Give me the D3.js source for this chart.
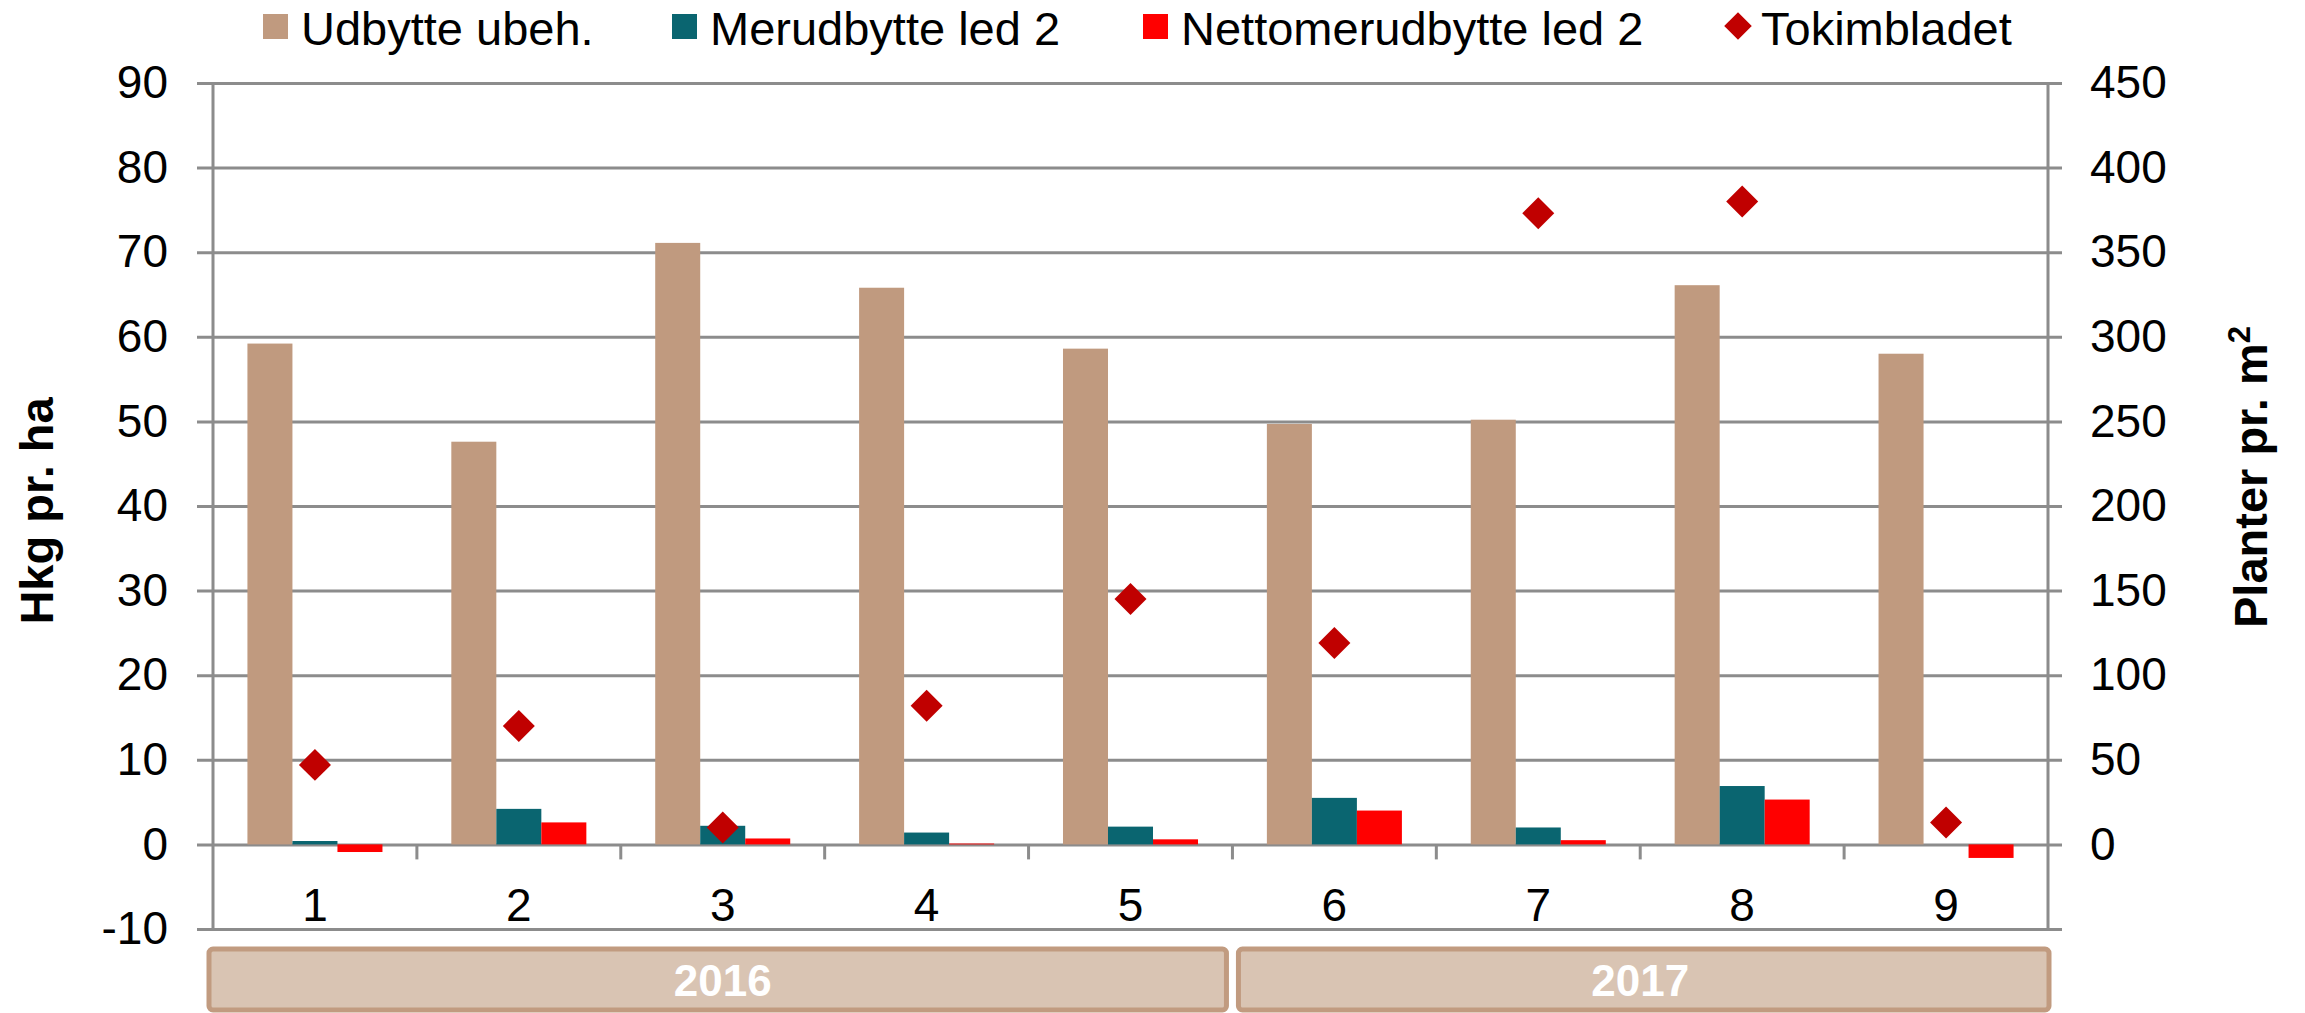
<!DOCTYPE html>
<html>
<head>
  <meta charset="utf-8">
  <script src="https://d3js.org/d3.v7.min.js"></script>
  <style>
    body { margin: 0; background: #fff; }
    svg text { font-family: "Liberation Sans", Arial, sans-serif; fill: #000; }
    .axis path { display: none; }
  </style>
</head>
<body>
<div id="chart"></div>
<script>

    const categories = ["1", "2", "3", "4", "5", "6", "7", "8", "9"]
    const udbytte     = [59.2, 47.6, 71.1, 65.8, 58.6, 49.7, 50.2, 66.1, 58.0]
    const merudbytte  = [0.4, 4.2, 2.2, 1.4, 2.1, 5.5, 2.0, 6.9, 0.0]
    const netto       = [-0.9, 2.6, 0.7, 0.1, 0.6, 4.0, 0.5, 5.3, -1.6]
    const tokimbladet = [47, 70, 10, 82, 145, 119, 373, 380, 13]

    const leftTicks  = [-10, 0, 10, 20, 30, 40, 50, 60, 70, 80, 90]
    const rightTicks = [0, 50, 100, 150, 200, 250, 300, 350, 400, 450]

    const seriesNames = ["Udbytte ubeh.", "Merudbytte led 2", "Nettomerudbytte led 2"]
    const seriesColors = ["#c09a7f", "#0a6570", "#ff0000"]
    const markerName = "Tokimbladet"
    const markerColor = "#c00000"

    const years = [
        { label: "2016", first: "1", last: "5" },
        { label: "2017", first: "6", last: "9" }
    ]

    const width = 2305,
        height = 1013

    const plot = { left: 213, right: 2048, top: 83, bottom: 929 }
    const gridColor = "#8c8c8c"

    const svg = d3.select("#chart").append("svg")
        .attr("width", width)
        .attr("height", height)

    const x = d3.scaleBand()
        .domain(categories)
        .range([plot.left, plot.right])

    const x1 = d3.scaleBand()
        .domain(seriesNames)
        .range([0, x.bandwidth()])
        .paddingOuter(0.765)

    const y = d3.scaleLinear()
        .domain([-10, 90])
        .range([plot.bottom, plot.top])

    const y2 = d3.scaleLinear()
        .domain([-50, 450])
        .range([plot.bottom, plot.top])

    // horizontal gridlines (with the small outer ticks on both sides)
    svg.append("g")
        .attr("class", "axis grid")
        .attr("transform", `translate(${plot.left - 16},0)`)
        .call(d3.axisLeft(y)
            .tickValues(leftTicks)
            .tickSize(-(plot.right - plot.left + 30))
            .tickFormat(""))
        .selectAll("line")
            .attr("stroke", gridColor)
            .attr("stroke-width", 3)

    // vertical axis lines
    svg.append("line")
        .attr("x1", plot.left).attr("x2", plot.left)
        .attr("y1", plot.top).attr("y2", plot.bottom)
        .attr("stroke", gridColor).attr("stroke-width", 3)

    svg.append("line")
        .attr("x1", plot.right).attr("x2", plot.right)
        .attr("y1", plot.top).attr("y2", plot.bottom)
        .attr("stroke", gridColor).attr("stroke-width", 3)

    // left tick labels (plain hyphen for negatives)
    svg.append("g")
        .attr("class", "axis axis-y")
        .attr("transform", `translate(${plot.left},0)`)
        .call(d3.axisLeft(y).tickValues(leftTicks).tickSize(0).tickPadding(45)
            .tickFormat(d => String(d)))
        .selectAll("text")
            .attr("font-size", 46)

    // right tick labels
    svg.append("g")
        .attr("class", "axis axis-y2")
        .attr("transform", `translate(${plot.right},0)`)
        .call(d3.axisRight(y2).tickValues(rightTicks).tickSize(0).tickPadding(42)
            .tickFormat(d => String(d)))
        .selectAll("text")
            .attr("font-size", 46)

    // category boundary ticks
    svg.append("g")
        .selectAll("line")
        .data(categories.slice(1))
        .enter().append("line")
            .attr("x1", d => x(d)).attr("x2", d => x(d))
            .attr("y1", y(0)).attr("y2", y(0) + 15)
            .attr("stroke", gridColor).attr("stroke-width", 3)

    // category labels
    svg.append("g")
        .attr("class", "axis axis-x")
        .attr("transform", `translate(0,${y(0)})`)
        .call(d3.axisBottom(x).tickSize(0).tickPadding(44))
        .selectAll("text")
            .attr("font-size", 46)

    // bars
    const rows = categories.map((c, i) => ({
        cat: c,
        values: [udbytte[i], merudbytte[i], netto[i]]
    }))

    const groups = svg.append("g")
        .selectAll("g")
        .data(rows)
        .enter().append("g")
            .attr("transform", d => `translate(${x(d.cat)},0)`)

    groups.selectAll("rect")
        .data(d => d.values.map((v, k) => ({ name: seriesNames[k], value: v, color: seriesColors[k] })))
        .enter().append("rect")
            .attr("x", d => x1(d.name))
            .attr("width", x1.bandwidth())
            .attr("y", d => y(Math.max(0, d.value)))
            .attr("height", d => Math.abs(y(d.value) - y(0)))
            .attr("fill", d => d.color)

    // diamonds
    const diamond = d3.symbol(d3.symbolSquare, 512)

    svg.append("g")
        .selectAll("path")
        .data(categories.map((c, i) => ({ cat: c, value: tokimbladet[i] })))
        .enter().append("path")
            .attr("d", diamond)
            .attr("transform", d => `translate(${x(d.cat) + x.bandwidth() / 2},${y2(d.value)}) rotate(45)`)
            .attr("fill", markerColor)

    // axis titles
    svg.append("text")
        .attr("transform", `translate(53,511) rotate(-90)`)
        .attr("text-anchor", "middle")
        .attr("font-size", 47)
        .attr("font-weight", "bold")
        .text("Hkg pr. ha")

    const rTitle = svg.append("text")
        .attr("transform", `translate(2267,477) rotate(-90)`)
        .attr("text-anchor", "middle")
        .attr("font-size", 47)
        .attr("font-weight", "bold")
    rTitle.append("tspan").text("Planter pr. m")
    rTitle.append("tspan")
        .attr("font-size", 31)
        .attr("dy", -17)
        .text("2")

    // year boxes
    const yearG = svg.append("g")
        .selectAll("g")
        .data(years)
        .enter().append("g")

    yearG.append("rect")
        .attr("x", d => x(d.first) - (d.first === categories[0] ? 4 : -6))
        .attr("width", d => x(d.last) + x.bandwidth() - x(d.first) + (d.first === categories[0] ? -2 : -5))
        .attr("y", 949)
        .attr("height", 61)
        .attr("rx", 4)
        .attr("fill", "#d9c4b3")
        .attr("stroke", "#c19b80")
        .attr("stroke-width", 5)

    yearG.append("text")
        .attr("x", d => (x(d.first) + x(d.last) + x.bandwidth()) / 2)
        .attr("y", 996)
        .attr("text-anchor", "middle")
        .attr("font-size", 44)
        .attr("font-weight", "bold")
        .style("fill", "#fff")
        .text(d => d.label)

    // legend
    const legendX = [263, 672, 1143, 1724]
    const legend = svg.append("g")

    seriesNames.forEach((name, k) => {
        legend.append("rect")
            .attr("x", legendX[k]).attr("y", 14)
            .attr("width", 25).attr("height", 25)
            .attr("fill", seriesColors[k])
        legend.append("text")
            .attr("x", legendX[k] + 38).attr("y", 45)
            .attr("font-size", 47)
            .text(name)
    })

    legend.append("path")
        .attr("d", d3.symbol(d3.symbolSquare, 380))
        .attr("transform", `translate(${legendX[3] + 14},26) rotate(45)`)
        .attr("fill", markerColor)
    legend.append("text")
        .attr("x", legendX[3] + 37).attr("y", 45)
        .attr("font-size", 47)
        .text(markerName)

</script>
</body>
</html>
